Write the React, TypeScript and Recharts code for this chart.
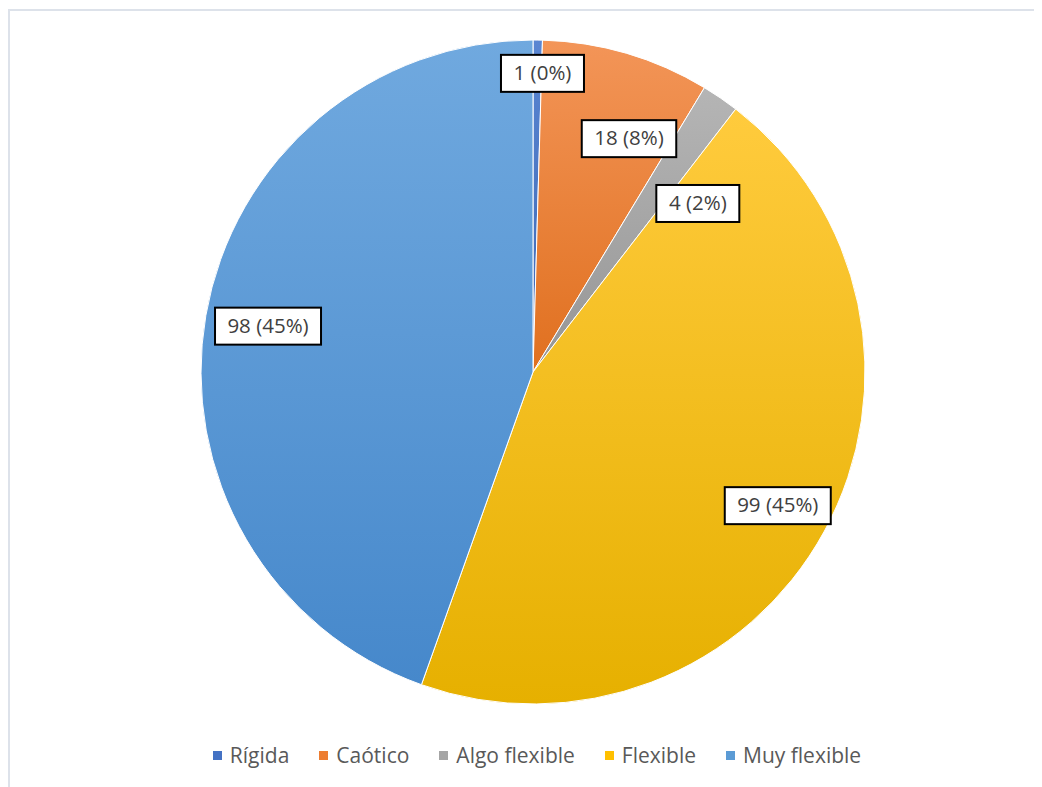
import React from 'react';
import { PieChart, Pie, Cell, Legend } from 'recharts';

const categories = ['Rígida', 'Caótico', 'Algo flexible', 'Flexible', 'Muy flexible'];
const counts = [1, 18, 4, 99, 98];

const colors = ['#4472C4', '#ED7D31', '#A5A5A5', '#FFC000', '#5B9BD5'];
const gradTop = ['#5A86D2', '#F39558', '#B5B5B5', '#FFCB3D', '#70A9DF'];
const gradBottom = ['#3B66B4', '#E0701F', '#959595', '#E6B000', '#4688CB'];

// label placement: fraction of radius and angle shift (degrees)
const labelPlacement = [
  { r: 0.9, da: -1 },
  { r: 0.76, da: -6 },
  { r: 0.71, da: -10 },
  { r: 0.84, da: 0 },
  { r: 0.81, da: 0 },
];

const data = categories.map((name, i) => ({ name, value: counts[i] }));
const total = counts.reduce((a, b) => a + b, 0);

const RAD = Math.PI / 180;

const renderLabel = (props: any) => {
  const { cx, cy, midAngle, outerRadius, index, value } = props;
  const p = labelPlacement[index];
  const ang = (midAngle + p.da) * RAD;
  const x = cx + outerRadius * p.r * Math.cos(ang);
  const y = cy - outerRadius * p.r * Math.sin(ang);
  const text = `${value} (${Math.round((value / total) * 100)}%)`;
  const w = text.length * 11.5 + 14;
  const h = 37;
  return (
    <g>
      <rect x={x - w / 2} y={y - h / 2} width={w} height={h} fill="#fff" stroke="#000" strokeWidth={2} />
      <text x={x} y={y + 1} textAnchor="middle" dominantBaseline="middle" fontSize={20.5} fill="#404040" fontFamily="'Open Sans', sans-serif">
        {text}
      </text>
    </g>
  );
};

const LegendContent = () => (
  <div style={{ display: 'flex', justifyContent: 'center', gap: 30, paddingLeft: 22, fontFamily: "'Open Sans', sans-serif", fontSize: 21, color: '#595959' }}>
    {categories.map((c, i) => (
      <div key={c} style={{ display: 'flex', alignItems: 'center' }}>
        <span style={{ width: 9, height: 9, background: colors[i], display: 'inline-block', marginRight: 8 }} />
        <span>{c}</span>
      </div>
    ))}
  </div>
);

export default function App() {
  return (
    <div style={{ marginTop: 1, width: 1040, height: 780, borderTop: '2px solid #DDE2EA', borderLeft: '2px solid #DDE2EA', background: '#fff' }}>
      <PieChart width={1032} height={776}>
        <defs>
          {colors.map((c, i) => (
            <linearGradient key={c} id={`g${i}`} x1="0" y1="0" x2="0" y2="1">
              <stop offset="0%" stopColor={gradTop[i]} />
              <stop offset="100%" stopColor={gradBottom[i]} />
            </linearGradient>
          ))}
        </defs>
        <Pie
          data={data}
          dataKey="value"
          nameKey="name"
          cx={518}
          cy={356}
          outerRadius={332}
          startAngle={90}
          endAngle={-270}
          stroke="#fff"
          strokeWidth={1}
          label={renderLabel}
          labelLine={false}
          isAnimationActive={false}
        >
          {data.map((d, i) => (
            <Cell key={d.name} fill={`url(#g${i})`} />
          ))}
        </Pie>
        <Legend content={<LegendContent />} wrapperStyle={{ top: 730, left: 0, width: 1032 }} />
      </PieChart>
    </div>
  );
}
